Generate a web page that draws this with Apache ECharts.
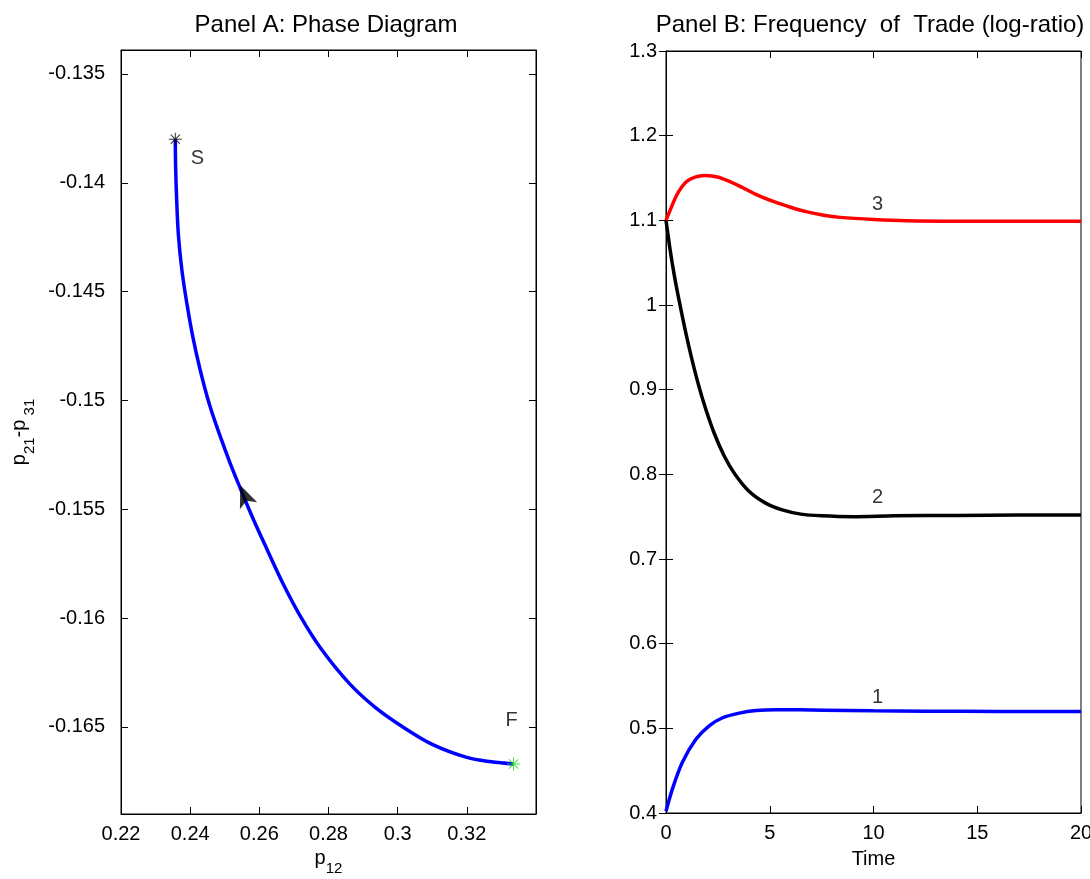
<!DOCTYPE html>
<html>
<head>
<meta charset="utf-8">
<script src="https://cdn.jsdelivr.net/npm/echarts@6/dist/echarts.min.js"></script>
<style>
html,body{margin:0;padding:0;background:#fff;}
#chart{width:1090px;height:879px;}
</style>
</head>
<body>
<div id="chart"></div>
<script>
// Panel A: phase diagram
const phaseP12 = [0.2357, 0.2358, 0.2361, 0.2366, 0.2376, 0.2390, 0.2408, 0.2429, 0.2456, 0.2488, 0.2516, 0.2544, 0.2581, 0.2621, 0.2668, 0.2718, 0.2778, 0.2860, 0.2935, 0.3015, 0.3100, 0.3200, 0.3270, 0.3335];
const phaseP21P31 = [-0.1380, -0.1393, -0.1408, -0.1424, -0.1440, -0.1455, -0.1471, -0.1486, -0.1502, -0.1517, -0.1529, -0.1540, -0.1554, -0.1568, -0.1584, -0.1599, -0.1614, -0.1630, -0.1641, -0.1650, -0.1658, -0.1664, -0.1666, -0.1667];
const startPoint = [0.2357, -0.1380];
const finalPoint = [0.3335, -0.1667];
const arrowPoint = [0.2545, -0.1539];
const phaseYTicks = [-0.135, -0.14, -0.145, -0.15, -0.155, -0.16, -0.165];

// Panel B: frequency of trade
const time1 = [0, 0.31, 0.79, 1.44, 2.08, 2.73, 3.53, 4.34, 5.3, 7.6, 10, 12.4, 16, 20];
const freq1 = [0.402, 0.4285, 0.4598, 0.487, 0.503, 0.5125, 0.518, 0.521, 0.522, 0.5215, 0.5207, 0.5203, 0.520, 0.520];
const time2 = [0, 0.2, 0.4, 0.65, 1.0, 1.4, 1.8, 2.3, 2.8, 3.3, 4.0, 4.8, 5.6, 6.5, 7.5, 9, 11, 14, 17, 20];
const freq2 = [1.100, 1.065, 1.035, 1.003, 0.962, 0.921, 0.886, 0.850, 0.822, 0.801, 0.780, 0.766, 0.758, 0.753, 0.751, 0.750, 0.751, 0.7515, 0.752, 0.752];
const time3 = [0, 0.25, 0.5, 0.75, 1.0, 1.4, 1.84, 2.3, 2.75, 3.5, 4.3, 5.2, 6.0, 6.8, 7.6, 8.4, 10, 11.6, 14, 17, 20];
const freq3 = [1.100, 1.115, 1.129, 1.139, 1.146, 1.151, 1.153, 1.152, 1.149, 1.141, 1.131, 1.122, 1.1155, 1.110, 1.106, 1.1035, 1.101, 1.0995, 1.099, 1.099, 1.099];
const curveLabels = ['1', '2', '3'];
const curveLabelPos = [[10.2, 0.537], [10.2, 0.773], [10.2, 1.119]];

const FONT = 'Liberation Sans, Arial, sans-serif';
const zip = (a, b) => a.map((v, i) => [v, b[i]]);
const star = 'path://M-0.8,-10L0.8,-10L0.8,10L-0.8,10Z M-10,-0.8L10,-0.8L10,0.8L-10,0.8Z M-7.63,-6.5L-6.5,-7.63L7.63,6.5L6.5,7.63Z M6.5,-7.63L7.63,-6.5L-6.5,7.63L-7.63,6.5Z';

const chart = echarts.init(document.getElementById('chart'), null, {renderer: 'canvas'});
const tickStyle = {inside: true, length: 7, lineStyle: {color: '#000', width: 1}};
const lineStyleAx = {show: true, lineStyle: {color: '#000', width: 1}};
const lbl = {color: '#000', fontFamily: FONT, fontSize: 20};
const subRich = {
  p: {fontFamily: FONT, fontSize: 20, color: '#000'},
  s: {fontFamily: FONT, fontSize: 15, color: '#000', padding: [20, 0, 0, 0]}
};

const option = {
  backgroundColor: '#fff',
  animation: false,
  title: [
    {text: 'Panel A: Phase Diagram', left: 321, top: 8, textAlign: 'center',
     textStyle: {fontFamily: FONT, fontSize: 24, fontWeight: 'normal', color: '#000'}},
    {text: 'Panel B: Frequency  of  Trade (log-ratio)', left: 865, top: 8, textAlign: 'center',
     textStyle: {fontFamily: FONT, fontSize: 24, fontWeight: 'normal', color: '#000'}}
  ],
  grid: [
    {left: 121, top: 50, width: 415, height: 764, show: true, borderColor: '#000', borderWidth: 1, outerBoundsMode: 'none', containLabel: false},
    {left: 666, top: 51, width: 415, height: 762, show: true, borderColor: '#000', borderWidth: 1, outerBoundsMode: 'none', containLabel: false}
  ],
  xAxis: [
    {gridIndex: 0, type: 'value', min: 0.22, max: 0.34, interval: 0.02, position: 'bottom',
     axisLine: lineStyleAx, axisTick: tickStyle, splitLine: {show: false},
     axisLabel: Object.assign({}, lbl, {margin: 10, showMaxLabel: false, formatter: v => String(+v.toFixed(2))}),
     name: '{p|p}{s|12}', nameLocation: 'middle', nameGap: 26, nameTextStyle: {rich: subRich}},
    {gridIndex: 0, type: 'value', min: 0.22, max: 0.34, interval: 0.02, position: 'top',
     axisLine: lineStyleAx, axisTick: tickStyle, splitLine: {show: false}, axisLabel: {show: false}},
    {gridIndex: 1, type: 'value', min: 0, max: 20, interval: 5, position: 'bottom',
     axisLine: lineStyleAx, axisTick: tickStyle, splitLine: {show: false},
     axisLabel: Object.assign({}, lbl, {margin: 10}),
     name: 'Time', nameLocation: 'middle', nameGap: 36,
     nameTextStyle: {fontFamily: FONT, fontSize: 20, color: '#000'}},
    {gridIndex: 1, type: 'value', min: 0, max: 20, interval: 5, position: 'top',
     axisLine: lineStyleAx, axisTick: tickStyle, splitLine: {show: false}, axisLabel: {show: false}}
  ],
  yAxis: [
    {gridIndex: 0, type: 'value', min: -0.169, max: -0.1339, position: 'left',
     axisLine: lineStyleAx, splitLine: {show: false},
     axisTick: Object.assign({}, tickStyle, {customValues: phaseYTicks}),
     axisLabel: Object.assign({}, lbl, {margin: 16, customValues: phaseYTicks, formatter: v => String(+v.toFixed(3))}),
     name: '{p|p}{s|21}{p|-p}{s| 31}', nameLocation: 'middle', nameGap: 84, nameRotate: 90,
     nameTextStyle: {rich: subRich}},
    {gridIndex: 0, type: 'value', min: -0.169, max: -0.1339, position: 'right',
     axisLine: lineStyleAx, splitLine: {show: false},
     axisTick: Object.assign({}, tickStyle, {customValues: phaseYTicks}),
     axisLabel: {show: false}},
    {gridIndex: 1, type: 'value', min: 0.4, max: 1.3, interval: 0.1, position: 'left',
     axisLine: lineStyleAx, axisTick: tickStyle, splitLine: {show: false},
     axisLabel: Object.assign({}, lbl, {margin: 9, formatter: v => String(+v.toFixed(1))})},
    {gridIndex: 1, type: 'value', min: 0.4, max: 1.3, interval: 0.1, position: 'right',
     axisLine: lineStyleAx, axisTick: tickStyle, splitLine: {show: false}, axisLabel: {show: false}}
  ],
  series: [
    {type: 'line', xAxisIndex: 0, yAxisIndex: 0, data: zip(phaseP12, phaseP21P31), smooth: 0.35,
     showSymbol: false, lineStyle: {color: '#0000ff', width: 3.5}, z: 2},
    {type: 'scatter', xAxisIndex: 0, yAxisIndex: 0, data: [startPoint], symbol: star, symbolSize: 13,
     itemStyle: {color: '#000'}, z: 4,
     label: {show: true, formatter: 'S', position: 'right', offset: [4, 19], fontFamily: FONT, fontSize: 20, color: '#000'}},
    {type: 'scatter', xAxisIndex: 0, yAxisIndex: 0, data: [finalPoint], symbol: star, symbolSize: 13,
     itemStyle: {color: '#1fe01f'}, z: 4,
     label: {show: true, formatter: 'F', position: 'top', offset: [-2, -22], fontFamily: FONT, fontSize: 20, color: '#000'}},
    {type: 'scatter', xAxisIndex: 0, yAxisIndex: 0, data: [arrowPoint], symbol: 'arrow', symbolSize: [14, 22],
     symbolRotate: 22, itemStyle: {color: '#000'}, z: 5},
    {type: 'line', xAxisIndex: 2, yAxisIndex: 2, data: zip(time1, freq1), smooth: 0.3,
     showSymbol: false, lineStyle: {color: '#0000ff', width: 3.5}},
    {type: 'line', xAxisIndex: 2, yAxisIndex: 2, data: zip(time2, freq2), smooth: 0.3,
     showSymbol: false, lineStyle: {color: '#000000', width: 3.5}},
    {type: 'line', xAxisIndex: 2, yAxisIndex: 2, data: zip(time3, freq3), smooth: 0.3,
     showSymbol: false, lineStyle: {color: '#ff0000', width: 3.5}},
    {type: 'scatter', xAxisIndex: 2, yAxisIndex: 2, symbolSize: 0,
     data: curveLabelPos.map((p, i) => ({value: p, name: curveLabels[i]})),
     label: {show: true, position: 'inside', formatter: p => p.name, fontFamily: FONT, fontSize: 20, color: '#000'}}
  ]
};
chart.setOption(option);
</script>
</body>
</html>
